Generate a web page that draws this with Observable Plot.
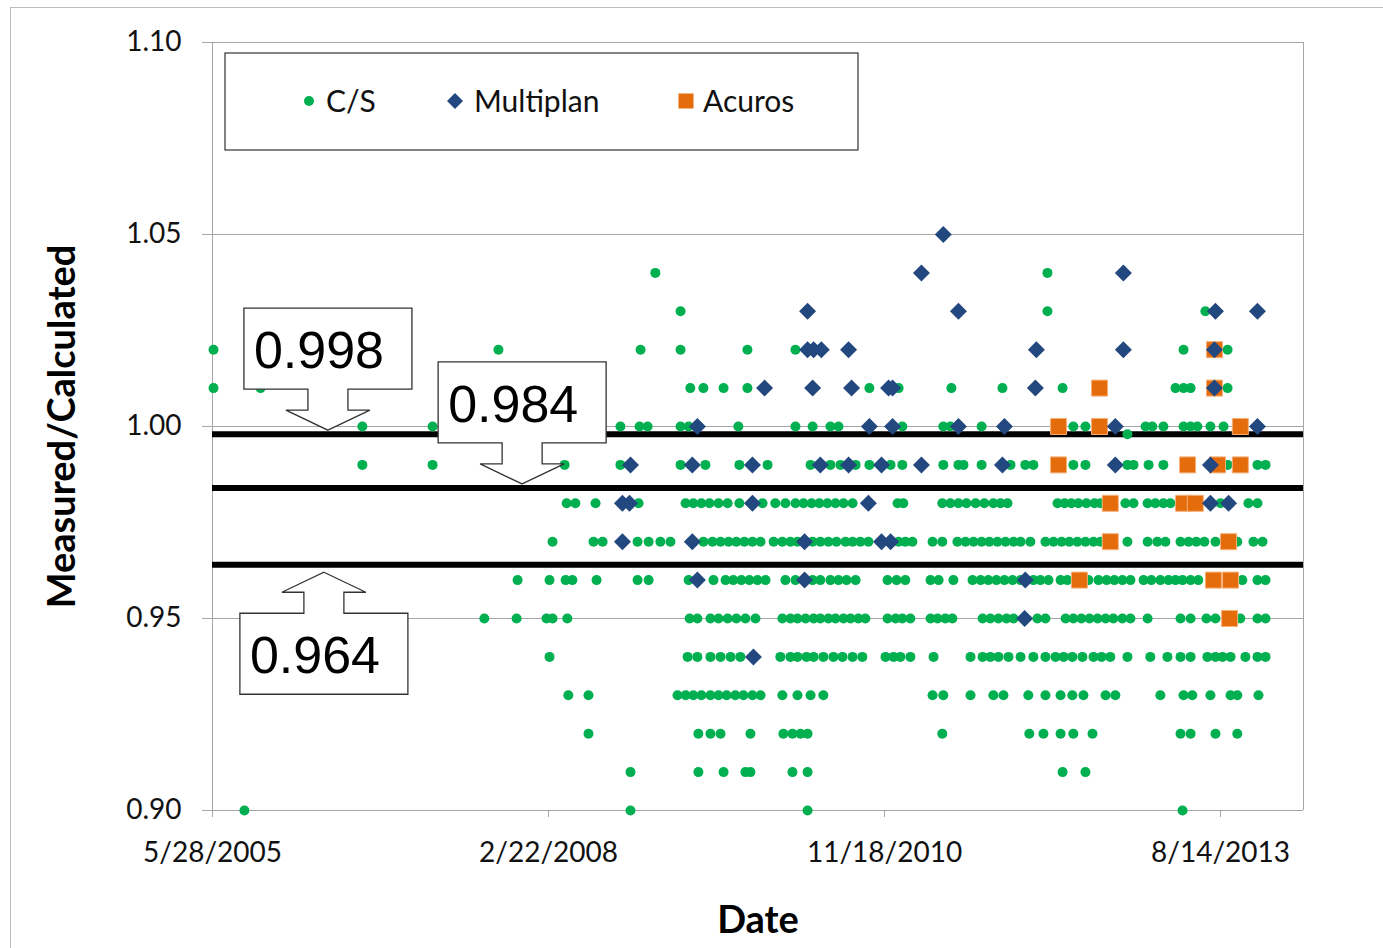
<!DOCTYPE html>
<html><head><meta charset="utf-8">
<script src="https://cdn.jsdelivr.net/npm/d3@7"></script>
<script src="https://cdn.jsdelivr.net/npm/@observablehq/plot@0.6"></script>
<style>
html,body{margin:0;padding:0;background:#fff;}
#wrap{position:relative;width:1383px;height:948px;overflow:hidden;background:#fff;}
#frame{position:absolute;left:10px;top:7px;width:1400px;height:1000px;border-top:1px solid #bdbdbd;border-left:1px solid #bdbdbd;}
#chart{position:absolute;left:0;top:0;}
</style></head><body>
<div id="wrap"><div id="frame"></div><div id="chart"></div></div>
<script>
// ---- data (dates as Excel serial day numbers) ----
const seriesNames = ["C/S", "Multiplan", "Acuros"];
const seriesColors = ["#00B050", "#23487F", "#E46C0A"];
const yTicks = [0.90, 0.95, 1.00, 1.05, 1.10];
const xTickSerials = [38500, 39500, 40500, 41500];
const xDomainSerials = [38500, 41747];
const thresholds = [0.998, 0.984, 0.964];
const thresholdLabels = ["0.998", "0.984", "0.964"];
const calloutSerials = [38845, 39423, 38833];
const calloutDirections = ["down", "down", "up"];

const csRows = [
  [1.04, [39818, 40985]],
  [1.03, [39893, 40985, 41455]],
  [1.02, [38503, 39351, 39774, 39893, 40092, 40235, 41390, 41521]],
  [1.01, [38503, 38643, 39922, 39961, 40021, 40092, 40455, 40542, 40699, 40851, 41030, 41366, 41390, 41411, 41521]],
  [1.00, [38946, 39155, 39714, 39771, 39795, 39893, 39917, 40065, 40235, 40286, 40339, 40363, 40553, 40675, 40696, 40789, 41062, 41098, 41277, 41297, 41330, 41390, 41411, 41431, 41470, 41509]],
  [0.998, [41223]],
  [0.99, [38946, 39155, 39548, 39714, 39893, 39967, 40068, 40152, 40280, 40339, 40369, 40414, 40455, 40518, 40553, 40675, 40720, 40735, 40789, 40875, 40919, 40943, 41062, 41098, 41223, 41241, 41286, 41330, 41521, 41610, 41634]],
  [0.98, [39554, 39580, 39640, 39768, 39908, 39931, 39955, 39979, 40006, 40033, 40068, 40137, 40175, 40205, 40235, 40259, 40283, 40306, 40330, 40354, 40378, 40405, 40539, 40556, 40672, 40696, 40720, 40744, 40771, 40797, 40824, 40845, 40866, 41015, 41036, 41056, 41077, 41101, 41125, 41143, 41217, 41241, 41283, 41306, 41330, 41351, 41500, 41583, 41610]],
  [0.97, [39512, 39634, 39661, 39765, 39798, 39833, 39863, 39961, 39988, 40012, 40036, 40059, 40083, 40107, 40131, 40170, 40196, 40220, 40241, 40286, 40309, 40333, 40357, 40384, 40405, 40428, 40452, 40542, 40562, 40583, 40643, 40672, 40717, 40741, 40765, 40789, 40812, 40836, 40860, 40884, 40905, 40934, 40979, 41003, 41027, 41050, 41074, 41098, 41122, 41143, 41223, 41283, 41312, 41336, 41381, 41405, 41428, 41452, 41485, 41550, 41598, 41625]],
  [0.96, [39408, 39503, 39551, 39571, 39643, 39765, 39798, 39917, 39991, 40027, 40050, 40074, 40098, 40122, 40146, 40205, 40235, 40286, 40309, 40339, 40363, 40387, 40414, 40509, 40536, 40562, 40637, 40661, 40705, 40762, 40786, 40809, 40833, 40857, 40881, 40905, 40943, 40964, 40988, 41024, 41044, 41107, 41137, 41161, 41184, 41208, 41232, 41271, 41294, 41321, 41345, 41366, 41387, 41411, 41434, 41565, 41610, 41634]],
  [0.95, [39309, 39405, 39494, 39512, 39556, 39920, 39943, 39982, 40006, 40033, 40059, 40086, 40116, 40196, 40220, 40241, 40265, 40289, 40309, 40333, 40354, 40378, 40399, 40422, 40443, 40509, 40533, 40553, 40577, 40637, 40658, 40681, 40702, 40792, 40815, 40839, 40863, 40884, 40955, 40979, 41039, 41062, 41086, 41110, 41134, 41158, 41181, 41208, 41232, 41283, 41381, 41411, 41458, 41485, 41559, 41610, 41634]],
  [0.94, [39503, 39914, 39943, 39982, 40012, 40042, 40071, 40190, 40220, 40241, 40268, 40289, 40318, 40348, 40375, 40405, 40434, 40503, 40527, 40547, 40577, 40646, 40756, 40792, 40815, 40839, 40869, 40905, 40943, 40979, 41009, 41033, 41059, 41089, 41122, 41146, 41172, 41223, 41291, 41342, 41381, 41411, 41461, 41485, 41506, 41530, 41574, 41610, 41634]],
  [0.93, [39559, 39619, 39884, 39908, 39931, 39955, 39982, 40006, 40030, 40056, 40080, 40107, 40131, 40196, 40241, 40280, 40318, 40643, 40675, 40756, 40824, 40854, 40928, 40979, 41024, 41059, 41092, 41158, 41187, 41321, 41390, 41416, 41470, 41530, 41550, 41613]],
  [0.92, [39619, 39946, 39982, 40012, 40101, 40199, 40226, 40250, 40271, 40672, 40931, 40973, 41024, 41062, 41119, 41381, 41411, 41485, 41550]],
  [0.91, [39744, 39946, 40021, 40086, 40101, 40226, 40271, 41030, 41098]],
  [0.90, [38595, 39744, 40271, 41387]]
];

const multiplanRows = [
  [1.05, [40675]],
  [1.04, [40610, 41211]],
  [1.03, [40271, 40720, 41485, 41610]],
  [1.02, [40271, 40289, 40312, 40393, 40952, 41211, 41482]],
  [1.01, [40143, 40286, 40402, 40512, 40524, 40949, 41482]],
  [1.00, [39943, 40455, 40524, 40720, 40857, 41187, 41610]],
  [0.99, [39744, 39928, 40107, 40309, 40393, 40491, 40610, 40851, 41187, 41470]],
  [0.98, [39720, 39741, 40107, 40452, 41470, 41524]],
  [0.97, [39720, 39928, 40262, 40491, 40518]],
  [0.96, [39943, 40262, 40919]],
  [0.95, [40917]],
  [0.94, [40110]]
];

const acurosRows = [
  [1.02, [41482]],
  [1.01, [41140, 41482]],
  [1.00, [41018, 41140, 41559]],
  [0.99, [41018, 41402, 41491, 41559]],
  [0.98, [41172, 41390, 41425]],
  [0.97, [41172, 41524]],
  [0.96, [41080, 41479, 41530]],
  [0.95, [41527]]
];

// ---- helpers ----
const toDate = s => new Date(Date.UTC(1899, 11, 30) + s * 864e5);
const flatten = rows => rows.flatMap(([v, ds]) => ds.map(s => ({date: toDate(s), value: v})));
const cs = flatten(csRows), mp = flatten(multiplanRows), ac = flatten(acurosRows);

const diamond = {draw(ctx, size) { const r = Math.sqrt(size / Math.PI); ctx.moveTo(0, -r); ctx.lineTo(r, 0); ctx.lineTo(0, r); ctx.lineTo(-r, 0); ctx.closePath(); }};
const square = {draw(ctx, size) { const r = Math.sqrt(size / Math.PI); ctx.moveTo(-r, -r); ctx.lineTo(r, -r); ctx.lineTo(r, r); ctx.lineTo(-r, r); ctx.closePath(); }};

function callouts(index, scales) {
  const g = d3.create("svg:g");
  thresholds.forEach((t, i) => {
    const tx = scales.x(toDate(calloutSerials[i]));
    const up = calloutDirections[i] === "up";
    const ty = scales.y(t) + (up ? 8 : -3.5);
    const s = up ? 1 : -1;
    const hw = 84, stem = 20, head = 42, headLen = 20, gap = 21, bh = 81;
    const yHead = ty + s * headLen, yNear = ty + s * (headLen + gap), yFar = yNear + s * bh;
    const pts = [[tx, ty], [tx + head, yHead], [tx + stem, yHead], [tx + stem, yNear], [tx + hw, yNear], [tx + hw, yFar],
                 [tx - hw, yFar], [tx - hw, yNear], [tx - stem, yNear], [tx - stem, yHead], [tx - head, yHead]];
    g.append("path").attr("d", "M" + pts.map(p => p.join(",")).join("L") + "Z")
      .attr("fill", "#fff").attr("stroke", "#333").attr("stroke-width", 1.3);
    const top = Math.min(yNear, yFar);
    g.append("text").attr("x", tx - hw + 10).attr("y", top + 60).attr("text-anchor", "start")
      .attr("font-family", "'Liberation Sans', Arial, sans-serif").attr("font-size", 52).attr("fill", "#000")
      .text(thresholdLabels[i]);
  });
  return g.node();
}

function legend() {
  const g = d3.create("svg:g");
  g.append("rect").attr("x", 225).attr("y", 53).attr("width", 633).attr("height", 97)
    .attr("fill", "#fff").attr("stroke", "#333").attr("stroke-width", 1.2);
  const cy = 101;
  const mx = [309, 455, 686], tx = [326, 474, 703];
  g.append("circle").attr("cx", mx[0]).attr("cy", cy).attr("r", 5).attr("fill", seriesColors[0]);
  g.append("path").attr("d", `M${mx[1]},${cy - 8}L${mx[1] + 8},${cy}L${mx[1]},${cy + 8}L${mx[1] - 8},${cy}Z`).attr("fill", seriesColors[1]);
  g.append("rect").attr("x", mx[2] - 7.5).attr("y", cy - 7.5).attr("width", 15).attr("height", 15).attr("fill", seriesColors[2]);
  seriesNames.forEach((n, i) => {
    g.append("text").attr("x", tx[i]).attr("y", cy).attr("dy", "0.35em").attr("text-anchor", "start")
      .attr("font-size", 30).attr("fill", "#111").text(n);
  });
  return g.node();
}

const chart = Plot.plot({
  width: 1383, height: 948,
  marginLeft: 212, marginRight: 80, marginTop: 42, marginBottom: 138,
  style: {fontFamily: "Lato, 'Open Sans', sans-serif", background: "transparent", overflow: "visible"},
  x: {type: "utc", domain: xDomainSerials.map(toDate)},
  y: {domain: [0.90, 1.10]},
  marks: [
    Plot.ruleY(yTicks, {stroke: "#a6a6a6", strokeWidth: 1}),
    Plot.ruleX(xDomainSerials.map(toDate), {stroke: "#a6a6a6", strokeWidth: 1}),
    Plot.axisY({ticks: yTicks, tickFormat: d3.format(".2f"), tickSize: 10, tickPadding: 21, fontSize: 28, stroke: "#a6a6a6", fill: "#111", label: null}),
    Plot.axisX({ticks: xTickSerials.map(toDate), tickFormat: d3.utcFormat("%-m/%-d/%Y"), tickSize: 7, tickPadding: 25, fontSize: 28, stroke: "#a6a6a6", fill: "#111", label: null}),
    Plot.ruleY(thresholds, {stroke: "#000", strokeWidth: 6}),
    Plot.dot(cs, {x: "date", y: "value", r: 5, fill: seriesColors[0]}),
    Plot.dot(ac, {x: "date", y: "value", r: 8, symbol: square, fill: seriesColors[2], stroke: "#F7B07A", strokeWidth: 1}),
    Plot.dot(mp, {x: "date", y: "value", r: 8.5, symbol: diamond, fill: seriesColors[1]}),
    callouts,
    Plot.text(["Measured/Calculated"], {text: d => d, frameAnchor: "left", dx: -150, rotate: -90, textAnchor: "middle", fontSize: 38, fontWeight: "bold", fill: "#000"}),
    Plot.text(["Date"], {text: d => d, frameAnchor: "bottom", dy: 122, textAnchor: "middle", fontSize: 38, fontWeight: "bold", fill: "#000"}),
    legend
  ]
});
document.getElementById("chart").appendChild(chart);
</script>
</body></html>
